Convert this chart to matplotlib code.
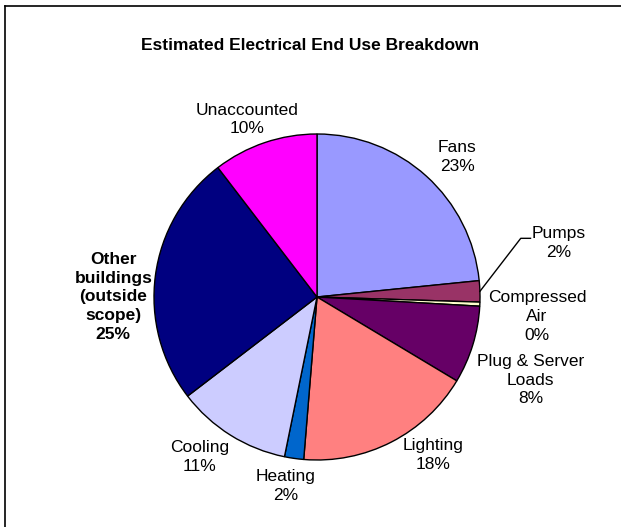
import matplotlib.pyplot as plt
from matplotlib.lines import Line2D
import numpy as np

# slices, clockwise from 12 o'clock
labels = ['Fans', 'Pumps', 'Compressed\nAir', 'Plug & Server\nLoads', 'Lighting',
          'Heating', 'Cooling', 'Other\nbuildings\n(outside\nscope)', 'Unaccounted']
values = [23.4, 2.1, 0.4, 7.7, 17.7, 1.9, 11.4, 25.0, 10.4]
pct_labels = ['23%', '2%', '0%', '8%', '18%', '2%', '11%', '25%', '10%']
colors = ['#9999FF', '#993366', '#FFFFCC', '#660066', '#FF8080',
          '#0066CC', '#CCCCFF', '#000080', '#FF00FF']

# label positions (pie radius = 1)
label_pos = [(0.86, 0.86), (1.48, 0.33), (1.35, -0.12), (1.31, -0.51), (0.71, -0.97),
             (-0.19, -1.16), (-0.72, -0.98), (-1.25, 0.0), (-0.43, 1.09)]

plt.rcParams['font.family'] = ['Liberation Sans', 'DejaVu Sans']

W, H = 621, 527
fig = plt.figure(figsize=(W / 100, H / 100), dpi=100)
ax = fig.add_axes([0, 0, 1, 1])

wedges, _ = ax.pie(values, colors=colors, startangle=90, counterclock=False,
                   wedgeprops=dict(edgecolor='black', linewidth=1.0))

cx, cy, r = 317, 297, 163
ax.set_xlim(-cx / r, (W - cx) / r)
ax.set_ylim(-(H - cy) / r, cy / r)
ax.set_aspect('auto')
ax.axis('off')

for i, (lab, pct) in enumerate(zip(labels, pct_labels)):
    x, y = label_pos[i]
    bold = 'Other' in lab
    ax.text(x, y, lab + '\n' + pct, ha='center', va='center', fontsize=12.5,
            fontweight='bold' if bold else 'normal', linespacing=1.3,
            color='black')

# leader line for Pumps
w = wedges[1]
mid = np.deg2rad((w.theta1 + w.theta2) / 2)
x0, y0 = np.cos(mid), np.sin(mid)
ax.plot([x0, 1.25, 1.31], [y0, 0.36, 0.36], color='black', lw=1.0)

fig.text(0.5, 1 - 46 / H, 'Estimated Electrical End Use Breakdown', ha='center',
         va='center', fontsize=12.5, fontweight='bold')

# chart border (only top and left visible)
fig.add_artist(Line2D([5 / W, 1], [1 - 6 / H, 1 - 6 / H], color='black', lw=1.2,
                      transform=fig.transFigure))
fig.add_artist(Line2D([5 / W, 5 / W], [0, 1 - 6 / H], color='black', lw=1.2,
                      transform=fig.transFigure))

fig.savefig('out.png', dpi=100)
